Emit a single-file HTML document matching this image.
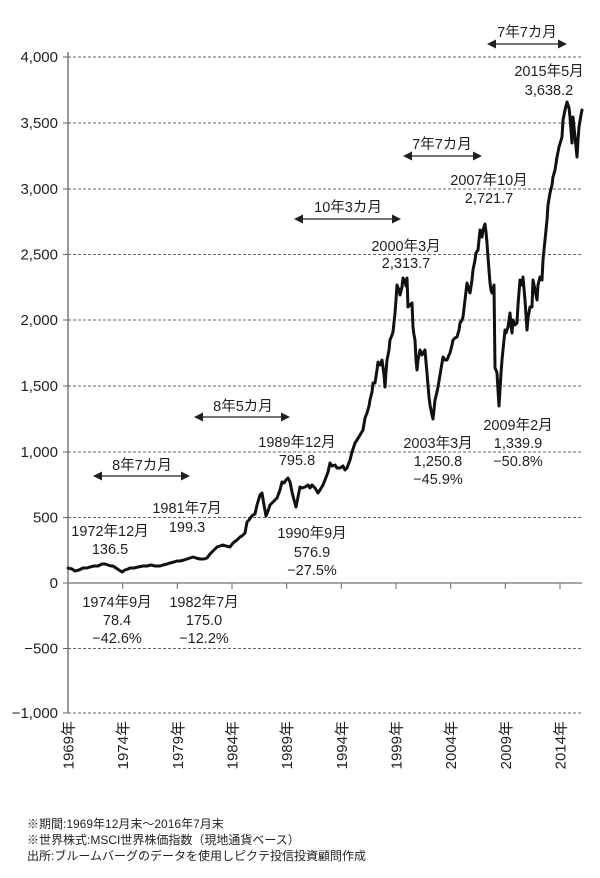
<!DOCTYPE html>
<html><head><meta charset="utf-8"><style>
html,body{margin:0;padding:0;background:#fff;}
svg{display:block;}
text{font-family:"Liberation Sans","Noto Sans CJK JP",sans-serif;fill:#231f20;}
</style></head><body>
<svg width="600" height="878" viewBox="0 0 600 878" xmlns="http://www.w3.org/2000/svg">
<!-- gridlines -->
<g stroke="#666" stroke-width="1" stroke-dasharray="3,2" fill="none">
<line x1="68" y1="57" x2="583" y2="57"/>
<line x1="68" y1="123" x2="583" y2="123"/>
<line x1="68" y1="189" x2="583" y2="189"/>
<line x1="68" y1="254.5" x2="583" y2="254.5"/>
<line x1="68" y1="320" x2="583" y2="320"/>
<line x1="68" y1="386" x2="583" y2="386"/>
<line x1="68" y1="452" x2="583" y2="452"/>
<line x1="68" y1="517.5" x2="583" y2="517.5"/>
<line x1="68" y1="648.5" x2="583" y2="648.5"/>
<line x1="68" y1="713" x2="583" y2="713"/>
</g>
<!-- axes -->
<line x1="68" y1="52" x2="68" y2="713" stroke="#666" stroke-width="1.3"/>
<line x1="68" y1="583" x2="582" y2="583" stroke="#888" stroke-width="1.5"/>
<g stroke="#666" stroke-width="1">
<line x1="63" y1="57" x2="68" y2="57"/><line x1="63" y1="123" x2="68" y2="123"/>
<line x1="63" y1="189" x2="68" y2="189"/><line x1="63" y1="254.5" x2="68" y2="254.5"/>
<line x1="63" y1="320" x2="68" y2="320"/><line x1="63" y1="386" x2="68" y2="386"/>
<line x1="63" y1="452" x2="68" y2="452"/><line x1="63" y1="517.5" x2="68" y2="517.5"/>
<line x1="63" y1="583" x2="68" y2="583"/><line x1="63" y1="648.5" x2="68" y2="648.5"/>
<line x1="63" y1="713" x2="68" y2="713"/>
<line x1="122.7" y1="583" x2="122.7" y2="589"/><line x1="177.3" y1="583" x2="177.3" y2="589"/>
<line x1="232" y1="583" x2="232" y2="589"/><line x1="286.7" y1="583" x2="286.7" y2="589"/>
<line x1="341.3" y1="583" x2="341.3" y2="589"/><line x1="396" y1="583" x2="396" y2="589"/>
<line x1="450.7" y1="583" x2="450.7" y2="589"/><line x1="505.3" y1="583" x2="505.3" y2="589"/>
<line x1="560" y1="583" x2="560" y2="589"/>
</g>
<!-- y labels -->
<g font-size="15" text-anchor="end">
<text x="58" y="62">4,000</text>
<text x="58" y="128">3,500</text>
<text x="58" y="194">3,000</text>
<text x="58" y="259.5">2,500</text>
<text x="58" y="325">2,000</text>
<text x="58" y="391">1,500</text>
<text x="58" y="457">1,000</text>
<text x="58" y="522.5">500</text>
<text x="58" y="588">0</text>
<text x="58" y="653.5">−500</text>
<text x="58" y="718">−1,000</text>
</g>
<!-- x labels -->
<g font-size="15" text-anchor="end">
<text transform="translate(73.5,721) rotate(-90)">1969年</text>
<text transform="translate(128.2,721) rotate(-90)">1974年</text>
<text transform="translate(182.8,721) rotate(-90)">1979年</text>
<text transform="translate(237.5,721) rotate(-90)">1984年</text>
<text transform="translate(292.2,721) rotate(-90)">1989年</text>
<text transform="translate(346.8,721) rotate(-90)">1994年</text>
<text transform="translate(401.5,721) rotate(-90)">1999年</text>
<text transform="translate(456.2,721) rotate(-90)">2004年</text>
<text transform="translate(510.8,721) rotate(-90)">2009年</text>
<text transform="translate(565.5,721) rotate(-90)">2014年</text>
</g>
<!-- data line -->
<polyline fill="none" stroke="#111" stroke-width="3" stroke-linejoin="round" stroke-linecap="round" points="
68,568 72,569 75,571 79,570 83,568 87,568 90,567 94,566 98,566 102,564 105,564 108,565 111,566 113,566 116,568 119,570 122,572 125,570 128,569 130,568 134,568 138,567 143,566 147,566 151,565 155,566 160,566 163,565 167,564 170,563 174,562 177,561 180,561 184,560 187,559 190,558 193,557 196,558 200,559 204,559 207,558 210,554 214,550 217,547 220,546 223,545 226,546 230,547 233,543 237,540 240,537 242,536 245,533 247,522 249,520 251,517 253,515 255,514 257,505 260,495 262,493 264,505 266,516 268,511 270,505 273,502 277,498 280,490 282,482 284,483 286,480 288,478 290,482 292,492 294,500 296,507 298,497 300,487 302,488 305,487 308,485 310,488 312,485 315,488 318,493 320,490 323,485 325,480 328,472 330,463 332,466 335,465 337,468 340,468 343,466 345,470 347,468 350,460 352,452 355,443 357,440 360,435 363,430 365,418 367,413 369,406 370,400 372,392 373,383 375,383 377,370 378,362 380,365 382,360 384,375 385,387 386,372 387,360 389,350 390,340 392,335 393,332 395,313 396,300 397,285 399,290 400,295 402,287 403,278 405,281 406,286 407,278 408,307 410,305 412,303 413,327 414,335 415,340 416,360 417,370 418,360 420,350 422,355 423,353 425,350 426,362 427,373 428,385 429,397 430,405 432,415 433,419 434,410 435,400 437,392 438,387 440,375 443,357 445,360 447,360 449,355 450,353 452,345 453,340 455,338 457,337 459,330 460,323 462,320 463,317 465,300 467,283 469,290 470,293 472,280 473,270 475,260 476,253 478,250 479,240 480,230 481,233 482,237 483,230 485,224 486,232 487,243 488,257 489,270 490,283 491,290 492,293 493,290 494,285 495,368 496,370 497,373 498,390 499,406 500,390 501,373 502,360 503,350 504,340 505,330 506,333 508,327 509,320 510,313 511,325 512,333 513,320 515,325 517,323 518,305 520,280 522,285 523,277 525,300 527,330 528,318 530,307 532,307 533,280 535,290 537,300 538,285 540,277 542,280 543,260 545,240 547,220 548,205 550,193 552,185 553,177 555,170 557,157 559,147 562,137 563,120 565,110 567,102 569,108 570,117 571,130 572,143 573,117 575,137 577,157 578,140 579,127 581,115 582,110"/>
<!-- arrows -->
<g stroke="#231f20" stroke-width="1.3">
<line x1="100" y1="476" x2="183" y2="476"/>
<line x1="201" y1="417" x2="283" y2="417"/>
<line x1="301" y1="219" x2="394" y2="219"/>
<line x1="410" y1="156" x2="475" y2="156"/>
<line x1="494" y1="44" x2="560" y2="44"/>
</g>
<g fill="#231f20">
<polygon points="93,476 102,471.5 102,480.5"/><polygon points="190,476 181,471.5 181,480.5"/>
<polygon points="194,417 203,412.5 203,421.5"/><polygon points="290,417 281,412.5 281,421.5"/>
<polygon points="294,219 303,214.5 303,223.5"/><polygon points="401,219 392,214.5 392,223.5"/>
<polygon points="403,156 412,151.5 412,160.5"/><polygon points="482,156 473,151.5 473,160.5"/>
<polygon points="487,44 496,39.5 496,48.5"/><polygon points="567,44 558,39.5 558,48.5"/>
</g>
<!-- annotations -->
<g font-size="14.5" text-anchor="middle">
<text x="142" y="470">8年7カ月</text>
<text x="243" y="411">8年5カ月</text>
<text x="348" y="212">10年3カ月</text>
<text x="442" y="149">7年7カ月</text>
<text x="527" y="37">7年7カ月</text>

<text x="549" y="76">2015年5月</text>
<text x="549" y="95">3,638.2</text>

<text x="489" y="185">2007年10月</text>
<text x="489" y="203">2,721.7</text>

<text x="406" y="251">2000年3月</text>
<text x="406" y="268">2,313.7</text>

<text x="438" y="448">2003年3月</text>
<text x="438" y="466">1,250.8</text>
<text x="438" y="484">−45.9%</text>

<text x="518" y="430">2009年2月</text>
<text x="518" y="448">1,339.9</text>
<text x="518" y="466">−50.8%</text>

<text x="297" y="447">1989年12月</text>
<text x="297" y="465">795.8</text>

<text x="312" y="538">1990年9月</text>
<text x="312" y="557">576.9</text>
<text x="312" y="575">−27.5%</text>

<text x="187" y="513">1981年7月</text>
<text x="187" y="532">199.3</text>

<text x="110" y="536">1972年12月</text>
<text x="110" y="554">136.5</text>

<text x="117" y="607">1974年9月</text>
<text x="117" y="625">78.4</text>
<text x="117" y="643">−42.6%</text>

<text x="204" y="607">1982年7月</text>
<text x="204" y="625">175.0</text>
<text x="204" y="643">−12.2%</text>
</g>
<!-- footnotes -->
<g font-size="12">
<text x="27" y="828">※期間:1969年12月末〜2016年7月末</text>
<text x="27" y="844">※世界株式:MSCI世界株価指数（現地通貨ベース）</text>
<text x="27" y="860">出所:ブルームバーグのデータを使用しピクテ投信投資顧問作成</text>
</g>
</svg>
</body></html>
